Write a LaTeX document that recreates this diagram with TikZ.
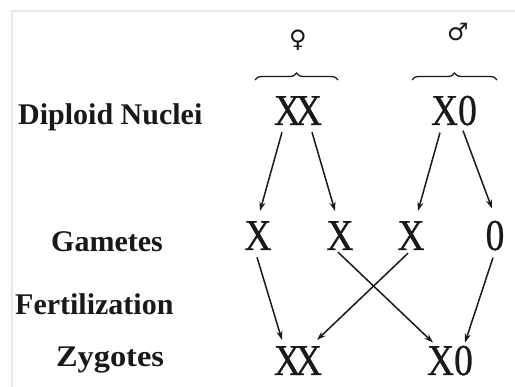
\documentclass[tikz,border=0pt]{standalone}
\usepackage{fontspec}
\setmainfont{Liberation Serif}
\newfontfamily\letterfont[FakeStretch=0.85,FakeBold=0.6]{Liberation Serif}
\newfontfamily\labelfont{Liberation Serif}
\newfontfamily\symfont{DejaVu Sans}
\usetikzlibrary{arrows.meta,decorations.pathreplacing}
\definecolor{framecol}{RGB}{236,232,218}
\definecolor{inkcol}{RGB}{25,25,25}
\begin{document}
\begin{tikzpicture}[x=1pt,y=-1pt,
  chrom/.style={font=\letterfont\fontsize{44}{44}\selectfont, inner sep=0pt, anchor=base, text=inkcol},
  lab/.style={font=\labelfont\bfseries\fontsize{30}{30}\selectfont, inner sep=0pt, anchor=base, text=inkcol},
  sym/.style={font=\symfont\fontsize{24}{24}\selectfont, inner sep=0pt, text=inkcol},
  arr/.style={-{Stealth[length=9pt,width=6pt]}, line width=1.5pt, draw=inkcol},
  bracecurl/.style={decorate, decoration={brace, amplitude=7pt}, line width=1.3pt, draw=inkcol}]
\useasboundingbox (0,0) rectangle (515,387);
\fill[white] (0,0) rectangle (515,387);
\draw[framecol, line width=2pt] (12,387) -- (12,11) -- (515,11);
% labels
\node[lab, anchor=base west] (ldip) at (18,125) {Diploid Nuclei};
\node[lab] (lgam) at (107,252) {Gametes};
\node[lab, anchor=base west] (lfer) at (15,315) {Fertilization};
\node[lab] (lzyg) at (110,367) {\scalebox{1.08}[1]{Zygotes}};
% symbols and braces
\node[sym] (fem) at (298,40) {♀};
\node[sym] (mal) at (458,32) {♂};
\coordinate (fbl) at (255,80);
\coordinate (fbr) at (338,80);
\coordinate (mbl) at (412,80);
\coordinate (mbr) at (497,80);
\draw[bracecurl] (fbl) -- (fbr);
\draw[bracecurl] (mbl) -- (mbr);
% diploid nuclei
\node[chrom] (dxx) at (298,125) {X\kern-6ptX};
\node[chrom] (dx0) at (454,125) {X0};
% gametes
\node[chrom] (g1) at (258,250) {X};
\node[chrom] (g2) at (340,250) {X};
\node[chrom] (g3) at (411,250) {X};
\node[chrom] (g4) at (495,250) {0};
% zygotes
\node[chrom] (zxx) at (298,375) {X\kern-6ptX};
\node[chrom] (zx0) at (450,375) {X0};
% arrows
\draw[arr] ([xshift=-16pt,yshift=-7pt]dxx.south) -- ([xshift=2pt,yshift=10pt]g1.north);
\draw[arr] ([xshift=14pt,yshift=-7pt]dxx.south) -- ([xshift=-5pt,yshift=10pt]g2.north);
\draw[arr] ([xshift=-14pt,yshift=-7pt]dx0.south) -- ([xshift=7pt,yshift=10pt]g3.north);
\draw[arr] ([xshift=9pt,yshift=-5pt]dx0.south) -- ([xshift=-3pt,yshift=12pt]g4.north);
\draw[arr] ([xshift=-1pt,yshift=-7pt]g1.south) -- ([xshift=-16pt,yshift=6pt]zxx.north);
\draw[arr] ([xshift=-2pt,yshift=-2pt]g2.south) -- ([xshift=-17pt,yshift=3pt]zx0.north);
\draw[arr] ([xshift=-3pt,yshift=-3pt]g3.south) -- ([xshift=19pt,yshift=6pt]zxx.north);
\draw[arr] ([xshift=-2pt,yshift=-7pt]g4.south) -- ([xshift=15pt,yshift=3pt]zx0.north);
\end{tikzpicture}
\end{document}
